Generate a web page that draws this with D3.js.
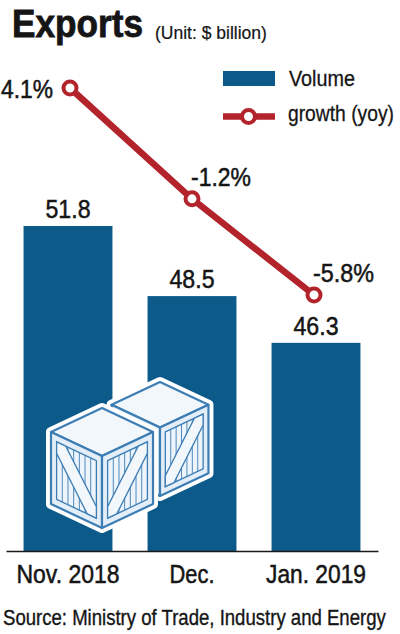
<!DOCTYPE html>
<html>
<head>
<meta charset="utf-8">
<script src="https://cdn.jsdelivr.net/npm/d3@7"></script>
<style>
  body { margin: 0; background: #fff; }
  text { font-family: "Liberation Sans", Arial, sans-serif; fill: #151515; stroke: #151515; stroke-width: 0.5px; }
</style>
</head>
<body>
<div id="chart"></div>
<script>
// data
const months = ["Nov. 2018", "Dec.", "Jan. 2019"];
const volume = [51.8, 48.5, 46.3];          // $ billion
const growth = [4.1, -1.2, -5.8];           // % yoy
const volumeLabels = ["51.8", "48.5", "46.3"];
const growthLabels = ["4.1%", "-1.2%", "-5.8%"];

const width = 400, height = 634;
const barColor = "#0c5a89", lineColor = "#b3232b";
const fontFamily = '"Liberation Sans", Arial, sans-serif';

const rows = months.map((m, i) => ({ m: m, v: volume[i], g: growth[i], vl: volumeLabels[i], gl: growthLabels[i] }));

let svg = d3.select("#chart")
    .append("svg")
    .attr("width", width)
    .attr("height", height);

// scales
let x = d3.scaleBand()
    .domain(months)
    .range([6, 378])
    .paddingInner(0.283)
    .paddingOuter(0.1415);
let y = d3.scaleLinear()          // truncated axis, as in the original graphic
    .domain([36.5, 51.8])
    .range([551, 226]);
let xg = d3.scalePoint()
    .domain(months)
    .range([70, 314]);
let yg = d3.scaleLinear()
    .domain([-5.8, 4.1])
    .range([295, 88]);

// squeeze text to the widths of the condensed face used in the original
function squeeze(sel, w) {
    sel.attr("textLength", w).attr("lengthAdjust", "spacingAndGlyphs");
}
// place a single text at (px, py) and scale it horizontally to width w
function fit(sel, px, py, w) {
    let k = w / sel.node().getComputedTextLength();
    sel.attr("transform", `translate(${px}, ${py}) scale(${k}, 1)`);
}

// title
svg.append("text")
    .style("font-weight", "bold").style("font-size", "38px")
    .style("stroke-width", "0.8px")
    .text("Exports")
    .call(fit, 12, 37, 131);
svg.append("text")
    .style("font-size", "17.5px")
    .style("stroke-width", "0.2px")
    .text("(Unit: $ billion)")
    .call(fit, 155, 39, 112);

// legend
svg.append("rect")
    .attr("x", 223).attr("y", 71).attr("width", 52).attr("height", 15)
    .attr("fill", barColor);
svg.append("line")
    .attr("x1", 223).attr("x2", 275).attr("y1", 116.5).attr("y2", 116.5)
    .attr("stroke", lineColor).attr("stroke-width", 6.5);
svg.append("circle")
    .attr("cx", 248.5).attr("cy", 116.5).attr("r", 6.5)
    .attr("fill", "#fff").attr("stroke", lineColor).attr("stroke-width", 4);
svg.append("text")
    .style("font-size", "21.5px")
    .style("stroke-width", "0.3px")
    .text("Volume")
    .call(fit, 289, 86, 66);
svg.append("text")
    .style("font-size", "21.5px")
    .style("stroke-width", "0.3px")
    .text("growth (yoy)")
    .call(fit, 288, 121, 106);

// bars
svg.append("g").selectAll("rect")
    .data(rows)
    .join("rect")
    .attr("x", d => x(d.m))
    .attr("y", d => y(d.v))
    .attr("width", x.bandwidth())
    .attr("height", d => y(36.5) - y(d.v))
    .attr("fill", barColor);

svg.append("g").selectAll("text")
    .data(rows)
    .join("text")
    .attr("x", d => x(d.m) + x.bandwidth() / 2)
    .attr("y", d => y(d.v) - 8)
    .attr("text-anchor", "middle")
    .style("font-size", "25px")
    .call(squeeze, 45)
    .text(d => d.vl);

// crates illustration
function crate(g, ox, oy, s) {
    const P = (a, b) => [ox + a * s, oy + b * s];
    const T = P(0, 0), L = P(-51, 24), R = P(51, 24), F = P(0, 48),
          BL = P(-51, 96), BR = P(51, 96), BF = P(0, 120);
    const blue = "#3c7db4";
    let c = g.append("g");
    c.append("polygon")
        .attr("points", [T, R, BR, BF, BL, L].join(" "))
        .attr("fill", "#fff").attr("stroke", "#fff")
        .attr("stroke-width", 10).attr("stroke-linejoin", "round");
    c.append("polygon")
        .attr("points", [T, R, F, L].join(" "))
        .attr("fill", "#f2f7fc").attr("stroke", blue).attr("stroke-width", 2.2).attr("stroke-linejoin", "round");

    function face(p00, p10, p01, dir) {
        const A = (u, v) => [p00[0] + u * (p10[0] - p00[0]) + v * (p01[0] - p00[0]),
                             p00[1] + u * (p10[1] - p00[1]) + v * (p01[1] - p00[1])];
        c.append("polygon")
            .attr("points", [A(0, 0), A(1, 0), A(1, 1), A(0, 1)].join(" "))
            .attr("fill", "#e4eef8").attr("stroke", blue).attr("stroke-width", 2.2).attr("stroke-linejoin", "round");
        c.append("polygon")
            .attr("points", [A(0.11, 0.1), A(0.89, 0.1), A(0.89, 0.9), A(0.11, 0.9)].join(" "))
            .attr("fill", "#eef4fb").attr("stroke", blue).attr("stroke-width", 1.3);
        for (let k = 1; k < 7; k++) {
            let u = 0.11 + k * 0.78 / 7;
            c.append("line")
                .attr("x1", A(u, 0.1)[0]).attr("y1", A(u, 0.1)[1])
                .attr("x2", A(u, 0.9)[0]).attr("y2", A(u, 0.9)[1])
                .attr("stroke", blue).attr("stroke-width", 0.9);
        }
        let band = dir > 0
            ? [A(0.11, 0.1), A(0.29, 0.1), A(0.89, 0.74), A(0.89, 0.9), A(0.71, 0.9), A(0.11, 0.26)]
            : [A(0.11, 0.9), A(0.11, 0.74), A(0.71, 0.1), A(0.89, 0.1), A(0.89, 0.26), A(0.29, 0.9)];
        c.append("polygon")
            .attr("points", band.join(" "))
            .attr("fill", "#f2f7fc").attr("stroke", blue).attr("stroke-width", 1.3);
    }
    face(L, F, BL, 1);
    face(F, R, BF, -1);
}
let crates = svg.append("g");
crate(crates, 160, 382, 0.95);
crate(crates, 102, 408, 1);

// x axis
const tickWidths = [103, 45, 100];
let xAxis = svg.append("g")
    .attr("transform", "translate(0, 551)")
    .call(d3.axisBottom(x).tickSize(0).tickSizeOuter(0).tickPadding(14));
xAxis.select(".domain").attr("stroke", "#1a1a1a").attr("stroke-width", 1.6);
xAxis.selectAll("text")
    .style("font-family", fontFamily)
    .style("font-size", "25px")
    .attr("fill", "#151515")
    .attr("textLength", (d, i) => tickWidths[i])
    .attr("lengthAdjust", "spacingAndGlyphs");

// growth line
svg.append("path")
    .datum(rows)
    .attr("d", d3.line().x(d => xg(d.m)).y(d => yg(d.g)))
    .attr("fill", "none")
    .attr("stroke", lineColor)
    .attr("stroke-width", 6.5)
    .attr("stroke-linejoin", "round");

svg.append("g").selectAll("circle")
    .data(rows)
    .join("circle")
    .attr("cx", d => xg(d.m))
    .attr("cy", d => yg(d.g))
    .attr("r", 6.5)
    .attr("fill", "#fff")
    .attr("stroke", lineColor)
    .attr("stroke-width", 4);

const growthWidths = [52, 60, 61];
svg.append("g").selectAll("text")
    .data(rows)
    .join("text")
    .attr("x", (d, i) => i == 0 ? xg(d.m) - 17 : xg(d.m) - 1)
    .attr("y", (d, i) => i == 0 ? yg(d.g) + 10 : yg(d.g) - 13)
    .attr("text-anchor", (d, i) => i == 0 ? "end" : "start")
    .style("font-size", "25px")
    .attr("textLength", (d, i) => growthWidths[i])
    .attr("lengthAdjust", "spacingAndGlyphs")
    .text(d => d.gl);

// source
svg.append("text")
    .style("font-size", "21.5px")
    .style("stroke-width", "0.35px")
    .text("Source: Ministry of Trade, Industry and Energy")
    .call(fit, 3, 625, 383);
</script>
</body>
</html>
